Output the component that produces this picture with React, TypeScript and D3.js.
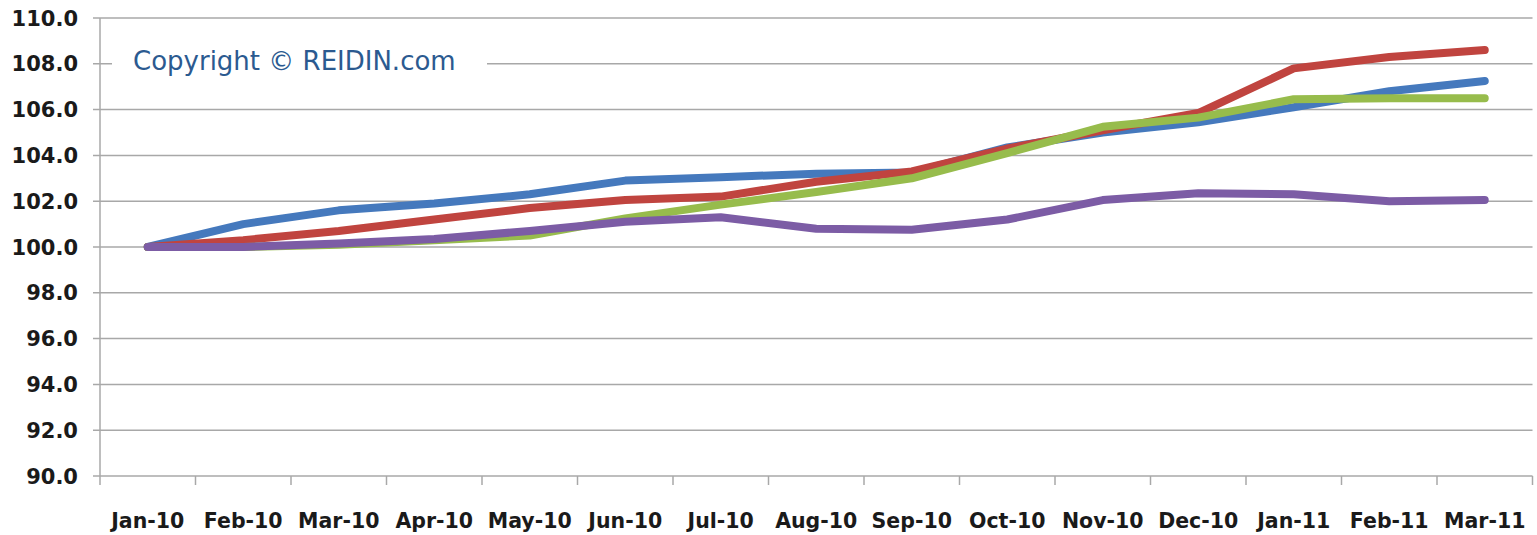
import React from "react";
import * as d3 from "d3";

const categories = ["Jan-10","Feb-10","Mar-10","Apr-10","May-10","Jun-10","Jul-10","Aug-10","Sep-10","Oct-10","Nov-10","Dec-10","Jan-11","Feb-11","Mar-11"];
const blueSeries = [100.0,101.0,101.6,101.9,102.3,102.9,103.05,103.2,103.25,104.35,105.0,105.45,106.1,106.8,107.25];
const redSeries = [100.0,100.3,100.7,101.2,101.7,102.05,102.2,102.85,103.3,104.3,105.1,105.85,107.8,108.3,108.6];
const greenSeries = [100.0,100.0,100.1,100.3,100.5,101.25,101.85,102.4,103.0,104.1,105.25,105.65,106.45,106.5,106.5];
const purpleSeries = [100.0,100.0,100.15,100.35,100.7,101.1,101.3,100.8,100.75,101.2,102.05,102.35,102.3,102.0,102.05];
const yTicks = [90,92,94,96,98,100,102,104,106,108,110];

const seriesList = [
  { name: "blue", values: blueSeries, color: "#4579BD" },
  { name: "red", values: redSeries, color: "#C0443F" },
  { name: "green", values: greenSeries, color: "#97BC4C" },
  { name: "purple", values: purpleSeries, color: "#7C5CA5" },
];

export default function App() {
  const W = 1537, H = 535;
  const left = 100, right = 1532.5, top = 18, bottom = 476;
  const x = d3.scaleBand<string>().domain(categories).range([left, right]).padding(0);
  const y = d3.scaleLinear().domain([90, 110]).range([bottom, top]);
  const cx = (c: string) => (x(c) as number) + x.bandwidth() / 2;
  const line = d3.line<number>().x((_, i) => cx(categories[i])).y((v) => y(v)).curve(d3.curveLinear);
  const boundaries = categories.map((c) => x(c) as number).concat([right]);
  const font = "'DejaVu Sans', sans-serif";

  return (
    <div style={{ position: "fixed", left: 0, top: 0 }}>
      <svg width={W} height={H} style={{ display: "block", background: "#fff" }}>
        {yTicks.map((t) => (
          <line key={t} x1={left - 7} x2={right} y1={y(t)} y2={y(t)} stroke="#A8A8A8" strokeWidth={1.5} />
        ))}
        <line x1={left} x2={left} y1={top} y2={bottom} stroke="#A8A8A8" strokeWidth={1.5} />
        {boundaries.map((b, i) => (
          <line key={i} x1={b} x2={b} y1={bottom} y2={bottom + 9} stroke="#A8A8A8" strokeWidth={1.5} />
        ))}
        <rect x={112} y={y(108) - 16} width={375} height={32} fill="#fff" />
        <text x={133} y={70} fontFamily={font} fontSize={26} fill="#2B5A90">Copyright © REIDIN.com</text>
        {yTicks.map((t) => (
          <text key={t} x={78} y={y(t)} dy="0.36em" textAnchor="end" fontFamily={font} fontWeight="bold" fontSize={21} fill="#1A1A1A">
            {t.toFixed(1)}
          </text>
        ))}
        {categories.map((c) => (
          <text key={c} x={cx(c)} y={528} textAnchor="middle" fontFamily={font} fontWeight="bold" fontSize={20.5} fill="#1A1A1A">
            {c}
          </text>
        ))}
        {seriesList.map((s) => (
          <path key={s.name} d={line(s.values) || ""} fill="none" stroke={s.color} strokeWidth={8} strokeLinecap="round" strokeLinejoin="round" />
        ))}
      </svg>
    </div>
  );
}
